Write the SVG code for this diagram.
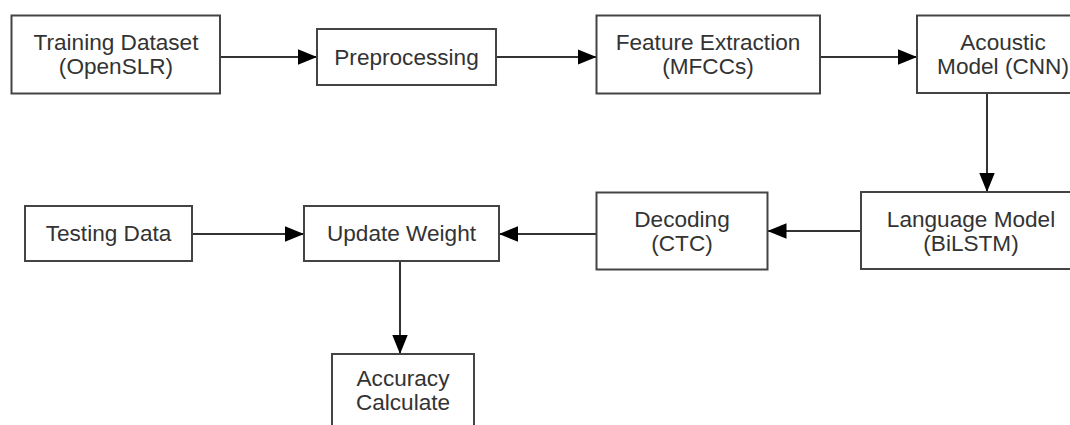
<svg xmlns="http://www.w3.org/2000/svg" width="1070" height="425" viewBox="0 0 1070 425">
<style>
.box{fill:#fff;stroke:#444;stroke-width:2}
.lbl{font-family:"Liberation Sans",Arial,sans-serif;font-size:22.6px;fill:#333;text-anchor:middle}
.edge{stroke:#333;stroke-width:2;fill:none}
</style>
<defs>
<marker id="arr" markerUnits="userSpaceOnUse" markerWidth="20" markerHeight="16" refX="19" refY="7.75" orient="auto">
<path d="M0,0 L19,7.75 L0,15.5 z" fill="#000"/>
</marker>
</defs>
<rect width="1070" height="425" fill="#fff"/>
<g id="connectors">
<line class="edge" x1="220" y1="57" x2="317" y2="57" marker-end="url(#arr)"/>
<line class="edge" x1="496" y1="57" x2="596.5" y2="57" marker-end="url(#arr)"/>
<line class="edge" x1="820" y1="57" x2="917" y2="57" marker-end="url(#arr)"/>
<line class="edge" x1="987" y1="93" x2="987" y2="192" marker-end="url(#arr)"/>
<line class="edge" x1="861" y1="231" x2="767.5" y2="231" marker-end="url(#arr)"/>
<line class="edge" x1="596.5" y1="234" x2="499" y2="234" marker-end="url(#arr)"/>
<line class="edge" x1="192" y1="234" x2="304" y2="234" marker-end="url(#arr)"/>
<line class="edge" x1="400" y1="261" x2="400" y2="354" marker-end="url(#arr)"/>
</g>
<g id="training">
<rect class="box" x="11.5" y="15.5" width="208.5" height="78"/>
<text class="lbl" x="116" y="49.5">Training Dataset</text>
<text class="lbl" x="116" y="73.5">(OpenSLR)</text>
</g>
<g id="preprocessing">
<rect class="box" x="317" y="29" width="179" height="56"/>
<text class="lbl" x="406.5" y="64.5">Preprocessing</text>
</g>
<g id="feature">
<rect class="box" x="596.5" y="15.5" width="223.5" height="78"/>
<text class="lbl" x="708" y="49.5">Feature Extraction</text>
<text class="lbl" x="708" y="73.5">(MFCCs)</text>
</g>
<g id="acoustic">
<rect class="box" x="917" y="15.5" width="172" height="77.5"/>
<text class="lbl" x="1003" y="49.5">Acoustic</text>
<text class="lbl" x="1003" y="73.5">Model (CNN)</text>
</g>
<g id="language">
<rect class="box" x="861" y="192" width="220" height="77"/>
<text class="lbl" x="971" y="226.5">Language Model</text>
<text class="lbl" x="971" y="250.5">(BiLSTM)</text>
</g>
<g id="decoding">
<rect class="box" x="596.5" y="192.5" width="171" height="77"/>
<text class="lbl" x="682" y="227">Decoding</text>
<text class="lbl" x="682" y="251">(CTC)</text>
</g>
<g id="update">
<rect class="box" x="304" y="206" width="195" height="55"/>
<text class="lbl" x="401.5" y="241">Update Weight</text>
</g>
<g id="testing">
<rect class="box" x="25" y="206" width="167" height="55"/>
<text class="lbl" x="108.5" y="241">Testing Data</text>
</g>
<g id="accuracy">
<rect class="box" x="332" y="354" width="142" height="90"/>
<text class="lbl" x="403" y="385.5">Accuracy</text>
<text class="lbl" x="403" y="409.5">Calculate</text>
</g>
</svg>
